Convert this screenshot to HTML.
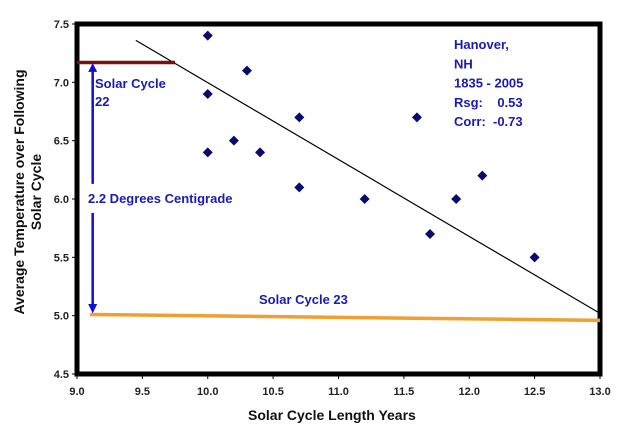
<!DOCTYPE html>
<html><head><meta charset="utf-8"><style>
body{margin:0;background:#fff;}
svg text{font-family:"Liberation Sans",sans-serif;}
</style></head><body>
<svg id="chart" width="627" height="426" xmlns="http://www.w3.org/2000/svg">
<g id="plot"></g>
</svg>
<script>
const xTicks=[9.0,9.5,10.0,10.5,11.0,11.5,12.0,12.5,13.0];
const yTicks=[4.5,5.0,5.5,6.0,6.5,7.0,7.5];
const cycleLength=[10.0,10.3,10.0,10.7,10.2,10.0,10.4,10.7,11.2,11.6,11.9,12.1,11.7,12.5];
const avgTemp=[7.4,7.1,6.9,6.7,6.5,6.4,6.4,6.1,6.0,6.7,6.0,6.2,5.7,5.5];
const trendX=[9.45,13.0];
const trendY=[7.36,5.02];
const cycle23X=[9.1,13.0];
const cycle23Y=[5.01,4.96];
const cycle22X=[9.0,9.75];
const cycle22Y=[7.17,7.17];
const X0=77,X1=600,Y0=374,Y1=24;
const sx=v=>X0+(v-9)/4*(X1-X0);
const sy=v=>Y0-(v-4.5)/3*(Y0-Y1);
const NS="http://www.w3.org/2000/svg";
const g=document.getElementById('plot');
function mk(t,a,p){const e=document.createElementNS(NS,t);for(const k in a)e.setAttribute(k,a[k]);(p||g).appendChild(e);return e;}
xTicks.forEach(v=>{
 const t=mk('line',{x1:sx(v),x2:sx(v),y1:Y0,y2:Y0+5,stroke:'#000','stroke-width':1});
 
 
 const l=mk('text',{x:sx(v),y:Y0+21,'text-anchor':'middle','font-size':11,'font-weight':'bold',fill:'#222'});
 l.textContent=v.toFixed(1);
 
 
});
yTicks.forEach(v=>{
 const t=mk('line',{x1:X0-5,x2:X0,y1:sy(v),y2:sy(v),stroke:'#000','stroke-width':1});
 
 
 const l=mk('text',{x:X0-8,y:sy(v)+4,'text-anchor':'end','font-size':11,'font-weight':'bold',fill:'#222'});
 l.textContent=v.toFixed(1);
 
 
});
const fr=mk('rect',{x:X0,y:Y1,width:X1-X0,height:Y0-Y1,fill:'none',stroke:'#000','stroke-width':5});


const tr=mk('line',{x1:sx(trendX[0]),y1:sy(trendY[0]),x2:sx(trendX[1]),y2:sy(trendY[1]),stroke:'#000','stroke-width':1.2});


const c23=mk('line',{x1:sx(cycle23X[0]),y1:sy(cycle23Y[0]),x2:sx(cycle23X[1]),y2:sy(cycle23Y[1]),stroke:'#f0a030','stroke-width':3.5});


const c22=mk('line',{x1:sx(cycle22X[0]),y1:sy(cycle22Y[0]),x2:sx(cycle22X[1]),y2:sy(cycle22Y[1]),stroke:'#7a1010','stroke-width':3.5});


const ax=sx(9.12);
const a1=mk('line',{x1:ax,x2:ax,y1:sy(7.1),y2:sy(6.13),stroke:'#1010d0','stroke-width':2.5});


const a2=mk('line',{x1:ax,x2:ax,y1:sy(5.88),y2:sy(5.09),stroke:'#1010d0','stroke-width':2.5});


const h1=mk('polygon',{points:`${ax-4.5},${sy(7.09)} ${ax+4.5},${sy(7.09)} ${ax},${sy(7.165)}`,fill:'#1010d0'});


const h2=mk('polygon',{points:`${ax-4.5},${sy(5.1)} ${ax+4.5},${sy(5.1)} ${ax},${sy(5.02)}`,fill:'#1010d0'});


cycleLength.forEach((v,i)=>{
 const x=sx(v),y=sy(avgTemp[i]);
 const p=mk('polygon',{points:`${x},${y-5} ${x+5},${y} ${x},${y+5} ${x-5},${y}`,fill:'#0a0a6e'});
 
 
});
function txt(s,x,y,size,name,col){const t=mk('text',{x:x,y:y,'font-size':size,'font-weight':'bold',fill:col||'#1a1ab4'});t.textContent=s;return t;}
txt('Solar Cycle',95,88,13,'solar-cycle-22-label');
txt('22',95,106,13,'solar-cycle-22-number');
txt('2.2 Degrees Centigrade',88,203,13,'temperature-delta-label');
txt('Solar Cycle 23',259,304,13,'solar-cycle-23-label');
const info=['Hanover,','NH','1835 - 2005','Rsg:    0.53','Corr:  -0.73'];
info.forEach((s,i)=>{const t=txt(s,454,49+i*19.3,13,'station-info-line');t.style.whiteSpace='pre';});
txt('Solar Cycle Length Years',248,420,14,'x-axis-title','#111');
const yt=mk('text',{x:0,y:0,'font-size':14,'font-weight':'bold',fill:'#111','text-anchor':'middle',transform:'translate(24,192) rotate(-90)'});


const s1=mk('tspan',{x:0,dy:0},yt);s1.textContent='Average Temperature over Following';
const s2=mk('tspan',{x:0,dy:17},yt);s2.textContent='Solar Cycle';
</script>
</body></html>
